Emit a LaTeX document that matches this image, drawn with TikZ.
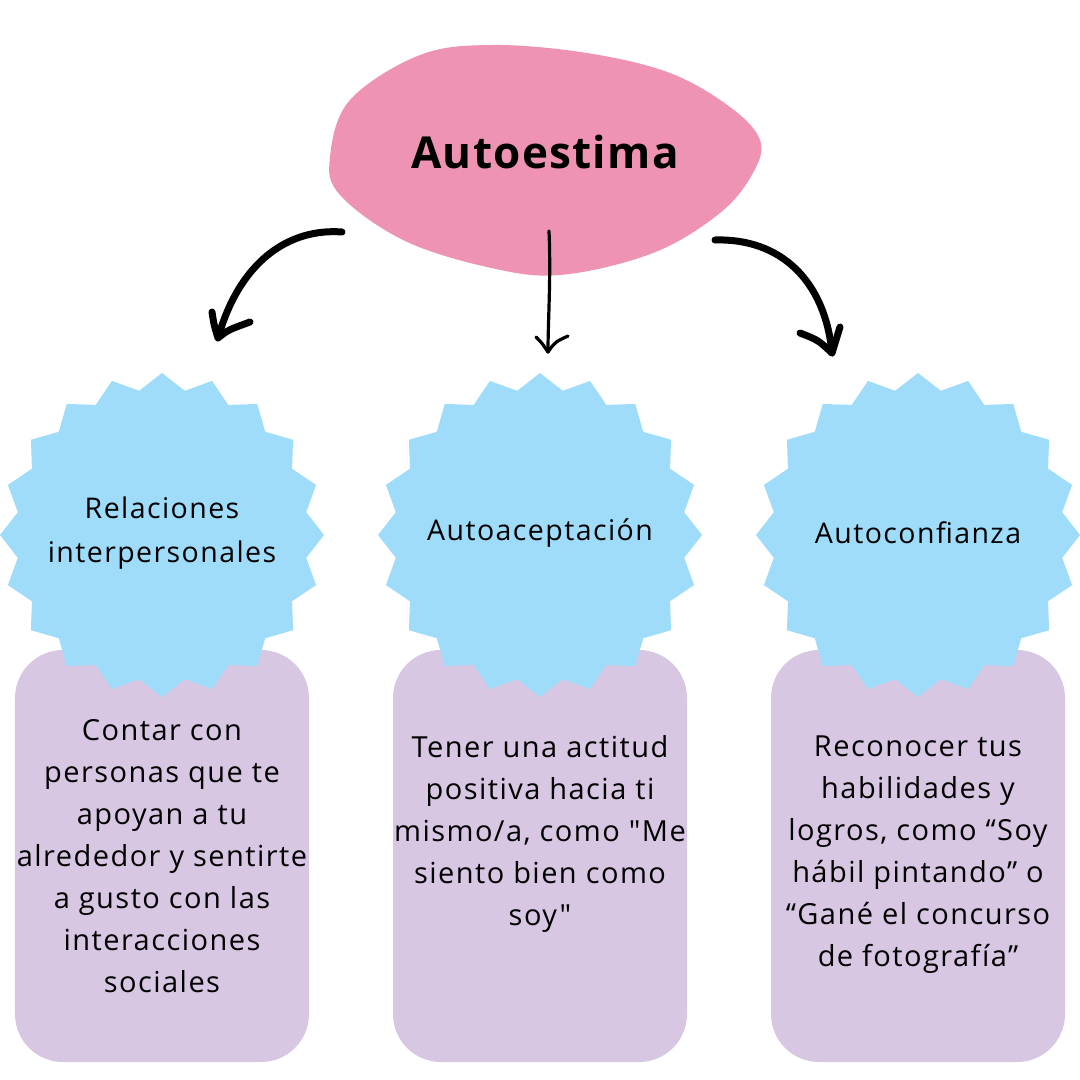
\documentclass[tikz,border=0pt]{standalone}
\usepackage{fontspec}
\newfontfamily\bodyfont{Open Sans}[LetterSpace=5]
\newfontfamily\titlefont{Open Sans}[LetterSpace=3]
\usetikzlibrary{shapes.geometric}
\definecolor{blobpink}{HTML}{EE93B4}
\definecolor{starblue}{HTML}{9EDCF9}
\definecolor{boxpurple}{HTML}{D7C7E3}
\tikzset{
  starshape/.style={star, star points=20, star point ratio=1.11, minimum size=324bp, inner sep=0pt, fill=starblue, draw=none},
  boxshape/.style={rounded corners=48bp, minimum width=294bp, minimum height=412bp, fill=boxpurple, draw=none, inner sep=0pt},
  bodytext/.style={align=center, font=\bodyfont\fontsize{29bp}{42bp}\selectfont, inner sep=0pt},
  startext/.style={align=center, font=\bodyfont\fontsize{28.5bp}{44bp}\selectfont, inner sep=0pt},
  handarrow/.style={line width=7bp, line cap=round, line join=round},
  thinarrow/.style={line width=3.2bp, line cap=round, line join=round},
}
\begin{document}
\begin{tikzpicture}[x=1bp,y=-1bp]
\useasboundingbox (0,0) rectangle (1080,1080);
% blob
\fill[blobpink] plot[smooth cycle, tension=0.6] coordinates {
 (330,157) (350,100) (420,55) (493,45) (587,53) (670,73) (730,107) (760,140)
 (753,173) (720,213) (653,253) (560,275) (487,267) (403,240) (340,195)};
\node[font=\titlefont\fontsize{44bp}{50bp}\selectfont\bfseries, inner sep=0pt] (title) at (545,152) {Autoestima};
% boxes
\node[boxshape] (b1) at (162,856) {};
\node[boxshape] (b2) at (540,856) {};
\node[boxshape] (b3) at (918,856) {};
% stars
\node[starshape] (s1) at (162,535) {};
\node[starshape] (s2) at (540,535) {};
\node[starshape] (s3) at (918,535) {};
\node[startext] (t1) at (162,533) {Relaciones\\interpersonales};
\node[startext] (t2) at (540,533) {Autoaceptación};
\node[startext] (t3) at (918,533) {Autoconfianza};
% box texts
\node[bodytext] (d1) at (162,856) {Contar con\\personas que te\\apoyan a tu\\alrededor y sentirte\\a gusto con las\\interacciones\\sociales};
\node[bodytext] (d2) at (540,834) {Tener una actitud\\positiva hacia ti\\mismo/a, como "Me\\siento bien como\\soy"};
\node[bodytext] (d3) at (918,855) {Reconocer tus\\habilidades y\\logros, como “Soy\\hábil pintando” o\\“Gané el concurso\\de fotografía”};
% arrows
\coordinate (a1s) at (342,232);
\coordinate (a1t) at (218,338);
\coordinate (a1l) at (212,312);
\coordinate (a1r) at (250,322);
\draw[handarrow] (a1s) .. controls (290,228) and (240,260) .. (a1t);
\draw[handarrow] (a1l) .. controls (214,325) .. (a1t) .. controls (228,330) .. (a1r);
\coordinate (a2s) at (549,231);
\coordinate (a2t) at (548,352);
\coordinate (a2l) at (536,337);
\coordinate (a2r) at (568,336);
\draw[thinarrow] (a2s) .. controls (551,280) and (548,320) .. (a2t);
\draw[thinarrow] (a2l) .. controls (542,343) .. (a2t) .. controls (555,342) .. (a2r);
\coordinate (a3s) at (715,240);
\coordinate (a3t) at (832,353);
\coordinate (a3l) at (800,333);
\coordinate (a3r) at (840,327);
\draw[handarrow] (a3s) .. controls (780,238) and (825,280) .. (a3t);
\draw[handarrow] (a3l) .. controls (818,340) .. (a3t) .. controls (836,340) .. (a3r);
\end{tikzpicture}
\end{document}
